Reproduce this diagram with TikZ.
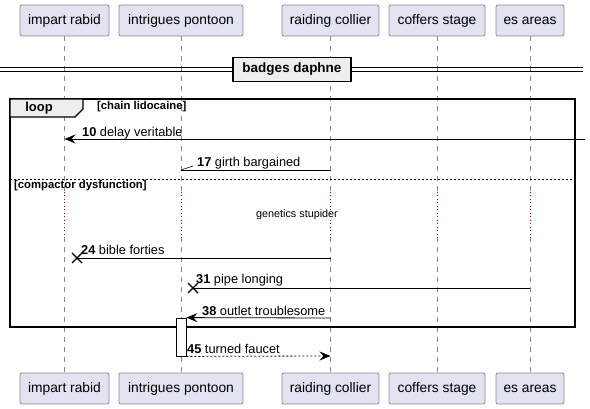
\documentclass[tikz,border=0pt]{standalone}
\usepackage{fontspec}
\setmainfont{Liberation Sans}
\usetikzlibrary{arrows.meta}
\definecolor{partfill}{HTML}{E2E2F0}
\definecolor{partdraw}{HTML}{888899}
\definecolor{lifec}{HTML}{888888}
\definecolor{delayc}{HTML}{A80036}
\definecolor{tabfill}{HTML}{EEEEEE}
\tikzset{
  part/.style={draw=partdraw, fill=partfill, rounded corners=2pt, minimum height=31pt, inner sep=0pt, font=\fontsize{13.8}{15}\selectfont, line width=0.8pt},
  lifeline/.style={draw=lifec, dash pattern=on 5pt off 5pt, line width=0.6pt},
  delayline/.style={draw=delayc, dash pattern=on 1pt off 2.5pt, line width=0.8pt},
  msg/.style={draw=black, line width=0.8pt},
  tip/.style={-{Stealth[length=11pt,width=9pt,inset=4pt]}},
  mlabel/.style={font=\fontsize{12.8}{14}\selectfont, anchor=south west, inner sep=1pt},
  cond/.style={font=\bfseries\fontsize{11.3}{12}\selectfont, anchor=west, inner sep=0pt},
}
\newcommand{\num}[1]{\textbf{#1}}
\begin{document}
\begin{tikzpicture}[x=1pt,y=-1pt]
\useasboundingbox (0,0) rectangle (590,409);
% participants top
\node[part, minimum width=89pt] (pa) at (64.5,20.5) {impart rabid};
\node[part, minimum width=124pt] (pb) at (181,20.5) {intrigues pontoon};
\node[part, minimum width=97pt] (pc) at (330.5,20.5) {raiding collier};
\node[part, minimum width=96pt] (pd) at (437,20.5) {coffers stage};
\node[part, minimum width=68pt] (pe) at (530,20.5) {es areas};
% participants bottom
\node[part, minimum width=89pt] (qa) at (64.5,388.5) {impart rabid};
\node[part, minimum width=124pt] (qb) at (181,388.5) {intrigues pontoon};
\node[part, minimum width=97pt] (qc) at (330.5,388.5) {raiding collier};
\node[part, minimum width=96pt] (qd) at (437,388.5) {coffers stage};
\node[part, minimum width=68pt] (qe) at (530,388.5) {es areas};
% lifelines
\foreach \t/\b in {pa/qa,pb/qb,pc/qc,pd/qd,pe/qe}{
  \draw[lifeline] (\t.south) -- (\t.south |- 0,192);
  \draw[delayline] (\t.south |- 0,192) -- (\t.south |- 0,237);
  \draw[lifeline] (\t.south |- 0,237) -- (\b.north);
}
% divider
\draw[line width=0.8pt] (0,67) -- (583,67);
\draw[line width=0.8pt] (0,71) -- (583,71);
\node[draw=black, fill=tabfill, line width=1.2pt, minimum width=118pt, minimum height=24pt, inner sep=0pt, font=\bfseries\fontsize{13.5}{14}\selectfont] (div) at (292,69.5) {badges daphne};
% loop frame
\draw[line width=1.5pt] (10,99) rectangle (575,327);
\draw[fill=tabfill, line width=1.2pt] (10,99) -- (83,99) -- (83,109) -- (75,117) -- (10,117) -- cycle;
\node[font=\bfseries\fontsize{13}{14}\selectfont, inner sep=0pt] (looplbl) at (39,108) {loop};
\node[cond] (c1) at (97,107) {[chain lidocaine]};
\draw[dash pattern=on 2pt off 2pt, line width=0.7pt] (10,179) -- (575,179);
\node[cond] (c2) at (14,186) {[compactor dysfunction]};
% delay text
\node[font=\fontsize{10.8}{12}\selectfont, inner sep=0pt] (dl) at (297,215) {genetics stupider};
% message 10
\coordinate (m10s) at (585,139);
\coordinate (m10e) at (pa.south |- 0,139);
\draw[msg, tip] (m10s) -- (m10e);
\node[mlabel] (l10) at (81,140) {\num{10} delay veritable};
% message 17
\coordinate (m17s) at (pc.south |- 0,170);
\coordinate (m17e) at (pb.south |- 0,170);
\coordinate (m17h) at (193,166);
\draw[msg] (m17s) -- (m17e);
\draw[line width=0.6pt] (m17e) -- (m17h);
\node[mlabel] (l17) at (196,170) {\num{17} girth bargained};
% message 24
\coordinate (m24s) at (pc.south |- 0,258);
\coordinate (m24e) at (77,258);
\draw[msg] (m24s) -- (m24e);
\draw[line width=1.3pt] (72,253) -- (82,263) (72,263) -- (82,253);
\node[mlabel] (l24) at (80,256) {\num{24} bible forties};
% message 31
\coordinate (m31s) at (pe.south |- 0,288);
\coordinate (m31e) at (193,288);
\draw[msg] (m31s) -- (m31e);
\draw[line width=1.3pt] (188,283) -- (198,293) (188,293) -- (198,283);
\node[mlabel] (l31) at (195,287) {\num{31} pipe longing};
% activation
\node[draw=black, fill=white, line width=0.8pt, minimum width=10pt, minimum height=38pt, inner sep=0pt] (act) at (181,337) {};
% message 38
\coordinate (m38s) at (pc.south |- 0,318);
\draw[msg, tip] (m38s) -- (act.north east);
\node[mlabel] (l38) at (201,317) {\num{38} outlet troublesome};
% message 45
\coordinate (m45e) at (pc.south |- 0,356);
\draw[msg, dash pattern=on 2pt off 2pt, tip] (act.south east) -- (m45e);
\node[mlabel] (l45) at (186,355) {\num{45} turned faucet};
\end{tikzpicture}
\end{document}
